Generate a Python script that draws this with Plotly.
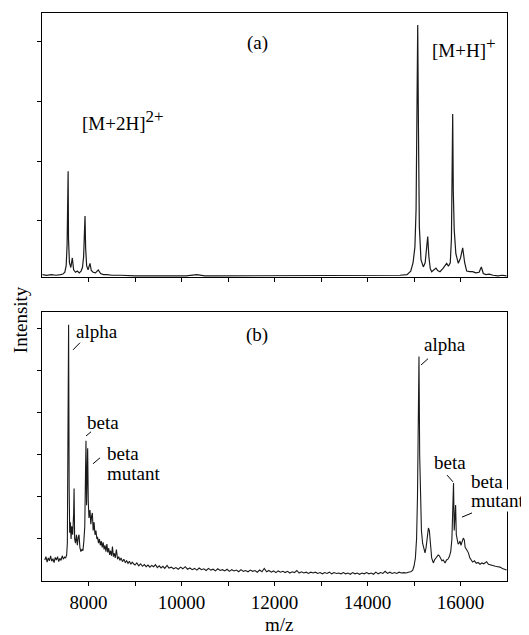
import plotly.graph_objects as go
from plotly.subplots import make_subplots

# ---------------- data ----------------
# Panel (a): m/z and intensity (arbitrary units)
a_mz = [7010, 7100, 7200, 7300, 7400, 7450, 7490, 7520, 7540, 7555, 7562, 7570, 7590, 7620,
        7652, 7680, 7720, 7760, 7800, 7840, 7870, 7895, 7912, 7925, 7938, 7960, 7990, 8032,
        8060, 8100, 8150, 8210, 8260, 8320, 8400, 8500, 8700, 9000, 9400, 9800, 10100, 10330,
        10500, 10800, 11200, 11600, 12000, 12400, 12800, 13200, 13600, 14000, 14400, 14700,
        14850, 14930, 14980, 15020, 15045, 15062, 15080, 15095, 15115, 15150, 15200, 15240,
        15270, 15295, 15320, 15350, 15380, 15430, 15473, 15510, 15559, 15620, 15680, 15703,
        15740, 15780, 15805, 15820, 15832, 15845, 15865, 15900, 15953, 16000, 16047, 16090,
        16133, 16200, 16260, 16330, 16400, 16448, 16490, 16550, 16620, 16700, 16800, 16900,
        16990]
a_int = [0.10, 0.09, 0.10, 0.09, 0.10, 0.11, 0.14, 0.25, 0.60, 1.17, 1.83, 0.70, 0.30, 0.22,
         0.38, 0.18, 0.14, 0.16, 0.13, 0.16, 0.22, 0.40, 0.75, 1.08, 0.55, 0.25, 0.18, 0.29,
         0.17, 0.14, 0.13, 0.18, 0.12, 0.10, 0.10, 0.09, 0.09, 0.08, 0.08, 0.08, 0.08, 0.10,
         0.08, 0.08, 0.08, 0.08, 0.08, 0.08, 0.08, 0.08, 0.08, 0.08, 0.08, 0.09,
         0.10, 0.16, 0.30, 0.57, 1.20, 2.80, 4.28, 2.60, 0.90, 0.35, 0.23, 0.30,
         0.55, 0.74, 0.40, 0.20, 0.15, 0.18, 0.21, 0.17, 0.15, 0.20, 0.27, 0.29,
         0.24, 0.30, 0.70, 1.60, 2.79, 1.50, 0.85, 0.45, 0.29, 0.38, 0.55, 0.30,
         0.16, 0.15, 0.15, 0.13, 0.14, 0.23, 0.12, 0.10, 0.11, 0.09, 0.08, 0.09,
         0.08]

# Panel (b): m/z and intensity (arbitrary units)
b_mz = [7060, 7085, 7110, 7135, 7160, 7185, 7210, 7235, 7260, 7285, 7310, 7335, 7360, 7385,
        7410, 7435, 7460, 7485, 7510, 7530,
        7545, 7560, 7572, 7584, 7596, 7610, 7625, 7640, 7660, 7680, 7690, 7702, 7720, 7740,
        7760, 7780, 7796, 7815, 7835, 7860, 7880, 7900, 7920, 7935, 7946, 7958, 7970, 7982,
        7995, 8010, 8032, 8050, 8068, 8083, 8100, 8120, 8140, 8160, 8180, 8194, 8215, 8235,
        8255, 8275, 8295, 8315, 8335, 8355, 8375, 8395, 8415, 8435, 8455, 8475, 8495, 8515,
        8535, 8555, 8575, 8600, 8625, 8650, 8675, 8700, 8730, 8760, 8790, 8820, 8850, 8880,
        8910, 8940, 8970, 9000, 9040, 9080, 9120, 9160, 9200, 9240, 9280, 9320, 9360, 9400,
        9440, 9480, 9520, 9560, 9600, 9640, 9690, 9730, 9780, 9830, 9880, 9930, 9980, 10030,
        10080, 10130, 10180, 10230, 10280, 10330, 10380, 10430, 10480, 10530, 10580, 10630,
        10680, 10730, 10780, 10830, 10880, 10930, 10980, 11030, 11080, 11130, 11180, 11230,
        11280, 11330, 11380, 11430, 11480, 11530, 11580, 11630, 11680, 11730, 11780, 11830,
        11880, 11930, 11980, 12030, 12080, 12130, 12180, 12230, 12280, 12330, 12380, 12430,
        12480, 12530, 12580, 12630, 12680, 12730, 12780, 12830, 12880, 12930, 12980, 13030,
        13080, 13130, 13180, 13230, 13280, 13330, 13380, 13430, 13480, 13530, 13580, 13630,
        13680, 13730, 13780, 13830, 13880, 13930, 13980, 14030, 14080, 14130, 14180, 14230,
        14280, 14330, 14380, 14430, 14480, 14530, 14580, 14630, 14680, 14730, 14780, 14830,
        14880, 14930, 14970, 15000, 15030, 15055, 15075, 15092, 15107, 15122, 15140, 15160,
        15185, 15210, 15237, 15260, 15290, 15310, 15330, 15355, 15380, 15400, 15416, 15440,
        15470, 15500, 15520, 15545, 15570, 15600, 15630, 15667, 15700, 15730, 15760, 15790,
        15815, 15835, 15850, 15865, 15880, 15895, 15910, 15930, 15950, 15970, 15990, 16010,
        16040, 16060, 16082, 16100, 16130, 16170, 16200, 16230, 16260, 16300, 16340, 16380,
        16420, 16460, 16500, 16540, 16563, 16600, 16650, 16700, 16750, 16800, 16850, 16900,
        16950, 16990]
b_int = [0.50, 0.58, 0.45, 0.55, 0.48, 0.60, 0.47, 0.53, 0.44, 0.56, 0.50, 0.58, 0.46, 0.54,
         0.49, 0.60, 0.52, 0.57, 0.55, 0.62,
         0.90, 3.90, 6.10, 2.20, 1.15, 1.40, 1.00, 1.30, 1.10, 1.60, 2.20, 1.00, 0.90, 1.10,
         0.85, 1.05, 1.10, 0.80, 0.70, 0.75, 0.72, 0.95, 1.30, 2.50, 3.34, 1.80, 2.40, 3.16,
         1.90, 1.50, 1.69, 1.35, 1.55, 1.62, 1.20, 1.40, 1.10, 1.20, 1.00, 1.05, 0.90, 1.00,
         0.85, 0.95, 0.80, 0.92, 0.75, 0.85, 0.70, 0.88, 0.68, 0.78, 0.62, 0.72, 0.60, 0.82,
         0.58, 0.66, 0.55, 0.75, 0.52, 0.58, 0.49, 0.55, 0.46, 0.52, 0.44, 0.48, 0.42, 0.47,
         0.40, 0.45, 0.41, 0.38, 0.43, 0.36, 0.41, 0.35, 0.39, 0.34, 0.38, 0.33, 0.37, 0.34,
         0.39, 0.32, 0.36, 0.31, 0.35, 0.30, 0.37, 0.31, 0.33, 0.29, 0.32, 0.28, 0.33, 0.29,
         0.34, 0.28, 0.31, 0.27, 0.30, 0.26, 0.31, 0.27, 0.29, 0.25, 0.30, 0.26,
         0.28, 0.24, 0.29, 0.25, 0.27, 0.24, 0.28, 0.23, 0.27, 0.24, 0.26, 0.22,
         0.27, 0.23, 0.25, 0.22, 0.26, 0.23, 0.25, 0.21, 0.26, 0.22, 0.30, 0.22,
         0.25, 0.21, 0.24, 0.20, 0.24, 0.21, 0.23, 0.20, 0.23, 0.19, 0.22, 0.20,
         0.25, 0.19, 0.22, 0.19, 0.21, 0.18, 0.21, 0.19, 0.21, 0.18, 0.20, 0.17,
         0.20, 0.18, 0.21, 0.17, 0.20, 0.18, 0.19, 0.17, 0.20, 0.17, 0.19, 0.16,
         0.20, 0.17, 0.19, 0.16, 0.19, 0.17, 0.20, 0.17, 0.19, 0.16, 0.21, 0.17,
         0.20, 0.18, 0.23, 0.18, 0.21, 0.18, 0.20, 0.18, 0.21, 0.19, 0.20, 0.19,
         0.21, 0.22, 0.25, 0.35, 0.55, 1.00, 2.00, 4.63, 5.34, 3.00, 2.09, 1.20,
         0.90, 0.75, 0.67, 0.80, 1.10, 1.26, 1.20, 0.80, 0.55, 0.48, 0.43, 0.50,
         0.55, 0.58, 0.62, 0.60, 0.55, 0.48, 0.50, 0.43, 0.50, 0.52, 0.58, 0.70,
         1.00, 1.70, 2.33, 1.20, 1.50, 1.81, 1.10, 0.92, 0.88, 0.90, 0.95, 0.85,
         0.95, 1.02, 0.98, 0.80, 0.75, 0.67, 0.55, 0.50, 0.45, 0.48, 0.42, 0.44,
         0.40, 0.43, 0.41, 0.44, 0.46, 0.40, 0.38, 0.37, 0.35, 0.34, 0.33, 0.30,
         0.28, 0.26]

x_major_ticks = [8000, 10000, 12000, 14000, 16000]
x_minor_ticks = [9000, 11000, 13000, 15000]
a_yticks = [1, 2, 3, 4]
b_yticks = [1, 2, 3, 4, 5, 6]

# ---------------- figure ----------------
FONT = "Liberation Serif"
fig = make_subplots(rows=2, cols=1, vertical_spacing=0.0616, row_heights=[0.465, 0.4736])

fig.add_trace(go.Scatter(x=a_mz, y=a_int, mode="lines",
                         line=dict(color="#1a1a1a", width=1.2), showlegend=False), row=1, col=1)
fig.add_trace(go.Scatter(x=b_mz, y=b_int, mode="lines",
                         line=dict(color="#1a1a1a", width=1.1), showlegend=False), row=2, col=1)

axis_common = dict(showline=True, linecolor="black", linewidth=1, mirror=True,
                   ticks="outside", ticklen=4, tickcolor="black", showgrid=False,
                   zeroline=False)

fig.update_xaxes(range=[7000, 17000], tickvals=x_major_ticks,
                 minor=dict(tickvals=x_minor_ticks, ticks="outside", ticklen=4,
                            tickcolor="black", showgrid=False),
                 **axis_common)
fig.update_xaxes(showticklabels=False, row=1, col=1)
fig.update_xaxes(showticklabels=True, tickformat="d",
                 tickfont=dict(family=FONT, size=19, color="black"), row=2, col=1)
fig.update_yaxes(showticklabels=False, **axis_common)
fig.update_yaxes(range=[0.06, 4.48], tickvals=a_yticks, row=1, col=1)
fig.update_yaxes(range=[0, 6.4], tickvals=b_yticks, row=2, col=1)

tf = dict(family=FONT, size=19, color="black")

def ann(text, x, y, xref, yref, xanchor="left", bg=None, **kw):
    d = dict(text=text, x=x, y=y, xref=xref, yref=yref, showarrow=False,
             xanchor=xanchor, yanchor="middle", font=tf, borderpad=0, **kw)
    if bg:
        d["bgcolor"] = bg
    fig.add_annotation(**d)

# panel (a) labels
ann("(a)", 11624, 3.98, "x", "y", xanchor="center")
ann("[M+2H]<sup><span style='font-size:17px'>2+</span></sup>", 7840, 2.68, "x", "y")
ann("[M+H]<sup><span style='font-size:17px'>+</span></sup>", 15370, 3.90, "x", "y")

# panel (b) labels
ann("(b)", 11624, 5.86, "x2", "y2", xanchor="center")
ann("alpha", 7710, 5.93, "x2", "y2")
ann("beta", 7946, 3.76, "x2", "y2")
ann("beta", 8376, 3.03, "x2", "y2")
ann("mutant", 8376, 2.55, "x2", "y2")
ann("alpha", 15194, 5.62, "x2", "y2")
ann("beta", 15409, 2.81, "x2", "y2")
ann("beta", 16204, 2.36, "x2", "y2", bg="white")
ann("mutant", 16204, 1.92, "x2", "y2", bg="white")

# leader lines (panel b)
leaders = [((7667, 5.50), (7817, 5.67)),
           ((7946, 3.45), (8054, 3.55)),
           ((8097, 2.79), (8247, 2.93)),
           ((15151, 5.14), (15301, 5.29)),
           ((15710, 2.52), (15839, 2.36)),
           ((16032, 1.52), (16247, 1.62))]
for (x0, y0), (x1, y1) in leaders:
    fig.add_shape(type="line", x0=x0, y0=y0, x1=x1, y1=y1, xref="x2", yref="y2",
                  line=dict(color="black", width=1))

# axis titles
fig.add_annotation(text="Intensity", x=-0.047, y=0.4595, xref="paper", yref="paper",
                   showarrow=False, textangle=-90, font=tf, xanchor="center", yanchor="middle")
fig.add_annotation(text="m/z", x=0.51, y=-0.076, xref="paper", yref="paper",
                   showarrow=False, font=tf, xanchor="center", yanchor="middle")

# the page adds an 8px body margin (top/left), so the figure is 8px smaller
# and the left/top margins are reduced by that amount
fig.update_layout(width=521, height=627, margin=dict(l=34, r=22, t=5, b=54),
                  paper_bgcolor="white", plot_bgcolor="white",
                  font=dict(family=FONT, color="black"))

fig.write_html("out.html")
